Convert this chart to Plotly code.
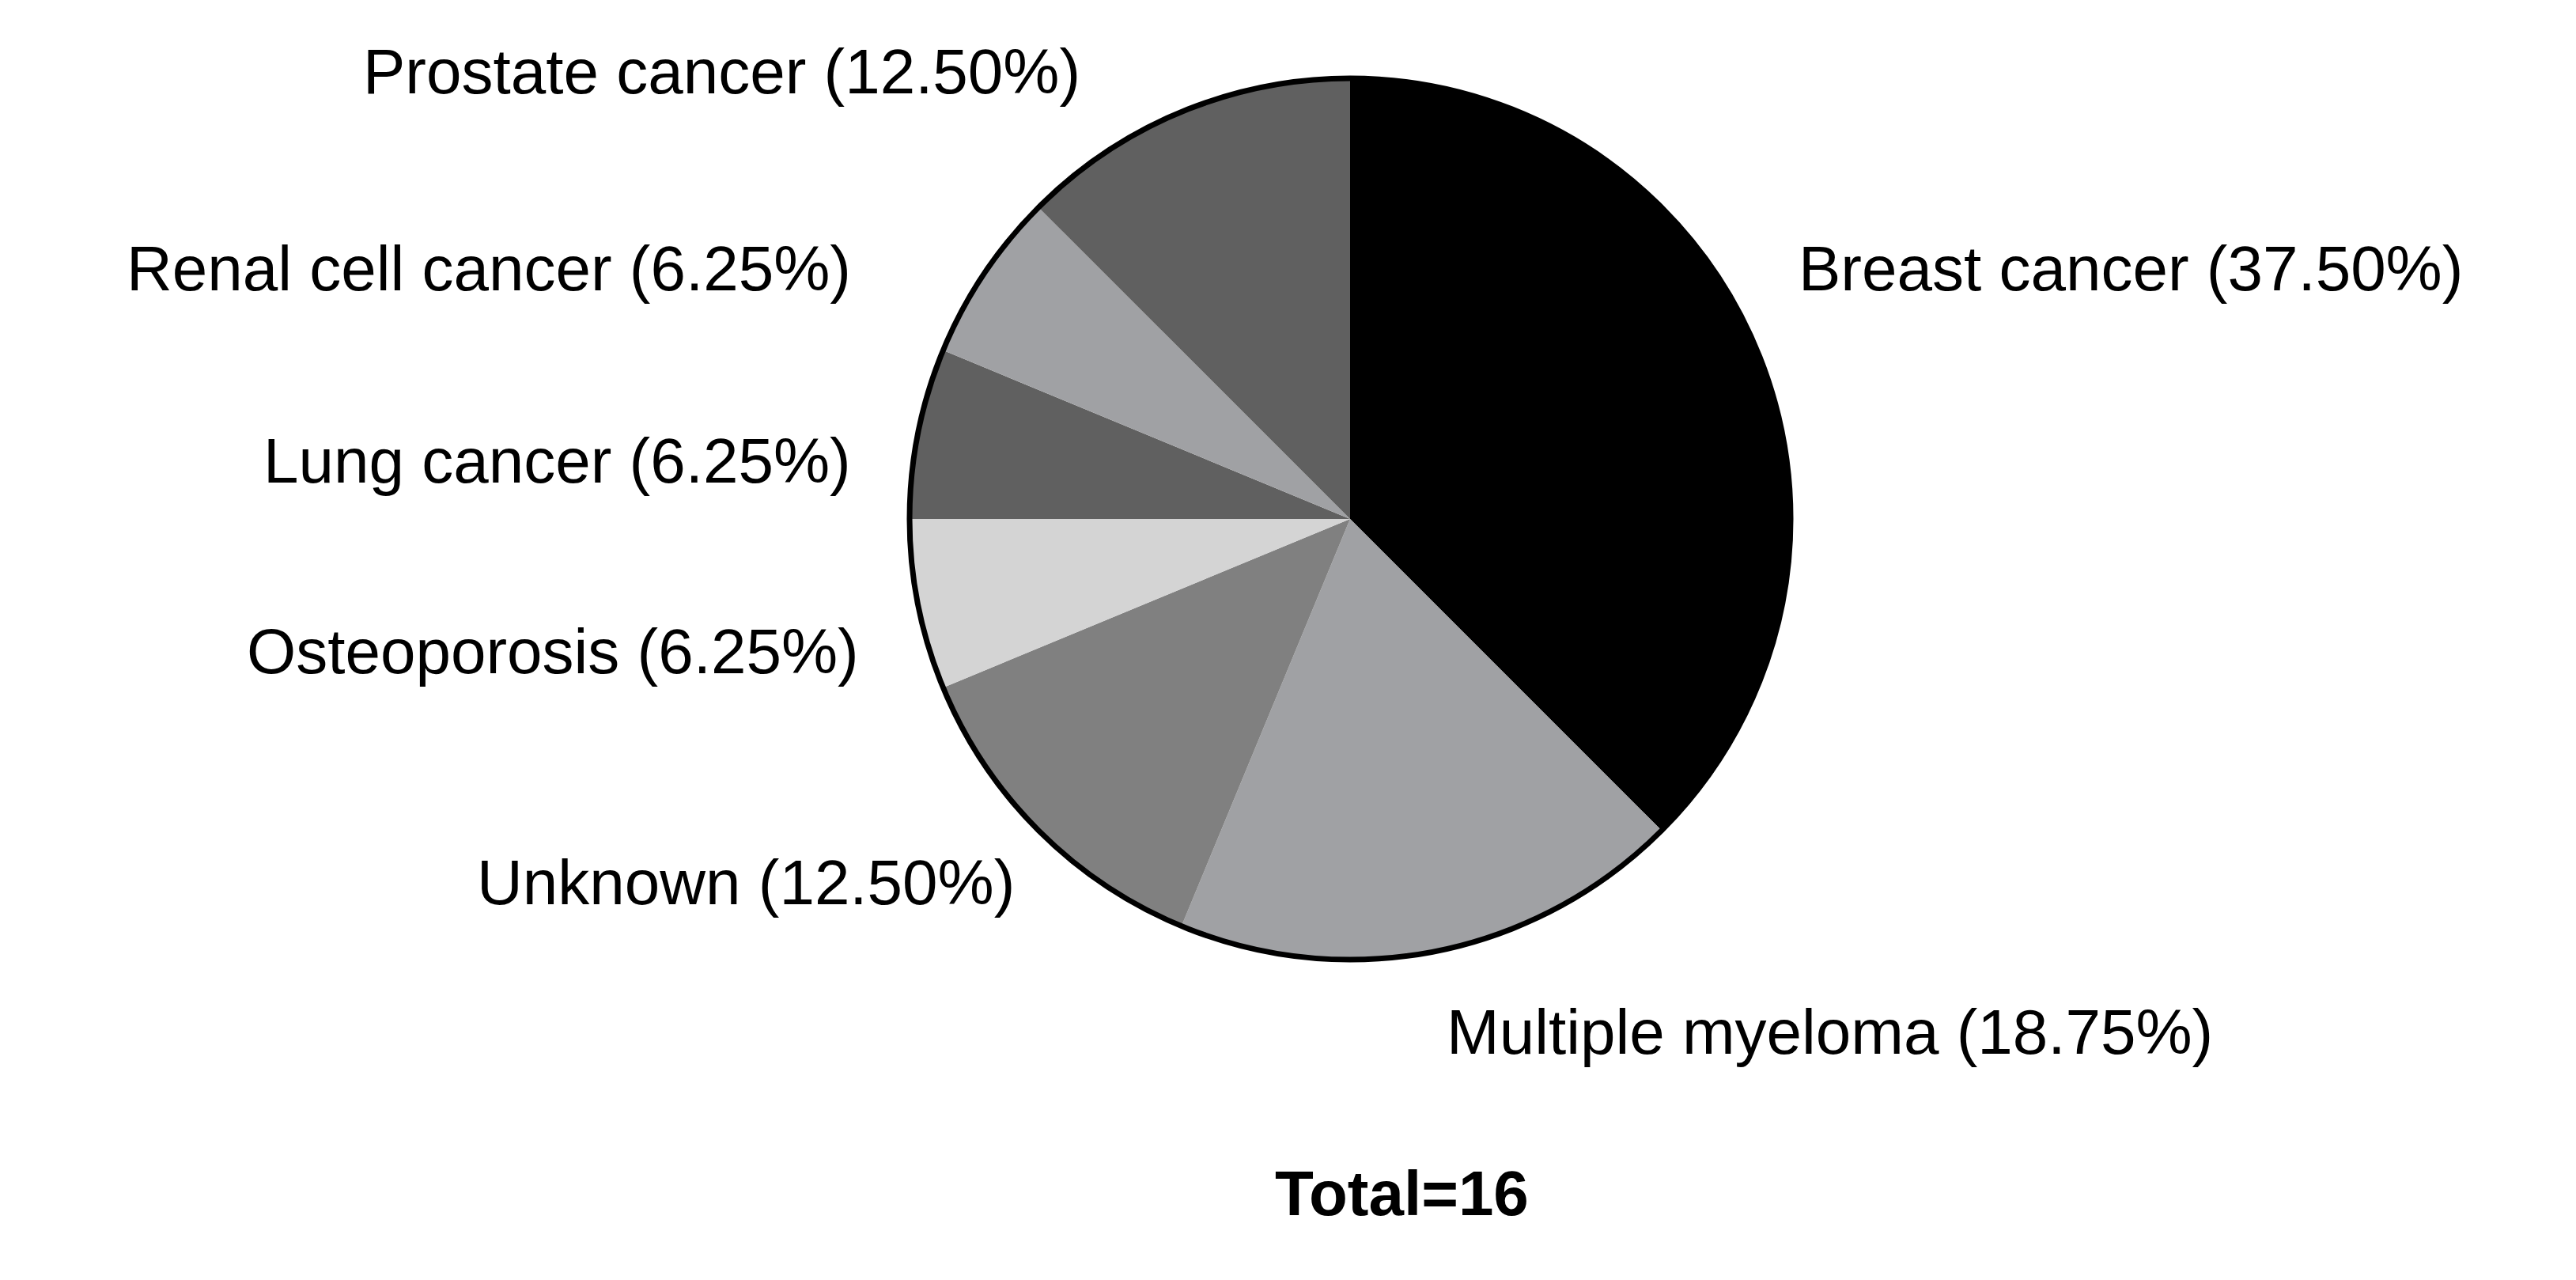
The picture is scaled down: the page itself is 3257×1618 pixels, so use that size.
import plotly.graph_objects as go

categories = ["Breast cancer", "Multiple myeloma", "Unknown", "Osteoporosis",
              "Lung cancer", "Renal cell cancer", "Prostate cancer"]
counts = [6, 3, 2, 1, 1, 1, 2]
colors = ["#000000", "#a0a1a4", "#808080", "#d4d4d4", "#606060", "#a0a1a4", "#606060"]
total = sum(counts)
pcts = [c / total * 100 for c in counts]

W, H = 3257, 1618
cx, cy, r = 1699, 648, 557
x0, x1 = (cx - r) / W, (cx + r) / W
y0, y1 = 1 - (cy + r) / H, 1 - (cy - r) / H

fig = go.Figure(go.Pie(
    labels=categories, values=counts, sort=False, direction="clockwise", rotation=0,
    marker=dict(colors=colors, line=dict(width=0)), textinfo="none", hoverinfo="none",
    domain=dict(x=[x0, x1], y=[y0, y1]), showlegend=False))

# label anchor (px) and alignment
label_pos = {
    "Prostate cancer": (1360, 83, "right"),
    "Renal cell cancer": (1070, 332, "right"),
    "Lung cancer": (1070, 575, "right"),
    "Osteoporosis": (1080, 816, "right"),
    "Unknown": (1277, 1107, "right"),
    "Breast cancer": (2264, 332, "left"),
    "Multiple myeloma": (1819, 1296, "left"),
}
font = dict(family="Liberation Sans, Arial", size=80, color="black")
for cat, p in zip(categories, pcts):
    px, py, al = label_pos[cat]
    fig.add_annotation(x=px / W, y=1 - py / H, xref="paper", yref="paper",
                       text=f"{cat} ({p:.2f}%)", showarrow=False,
                       xanchor=al, yanchor="middle", font=font)
fig.add_annotation(x=1765 / W, y=1 - 1547 / H, xref="paper", yref="paper",
                   text=f"<b>Total={total}</b>", showarrow=False, font=font)
fig.add_shape(type="circle", xref="paper", yref="paper", x0=x0, x1=x1, y0=y0, y1=y1,
              line=dict(color="black", width=7))
fig.update_layout(width=W, height=H, margin=dict(l=0, r=0, t=0, b=0),
                  paper_bgcolor="white", plot_bgcolor="white")
fig.write_html("out.html")
